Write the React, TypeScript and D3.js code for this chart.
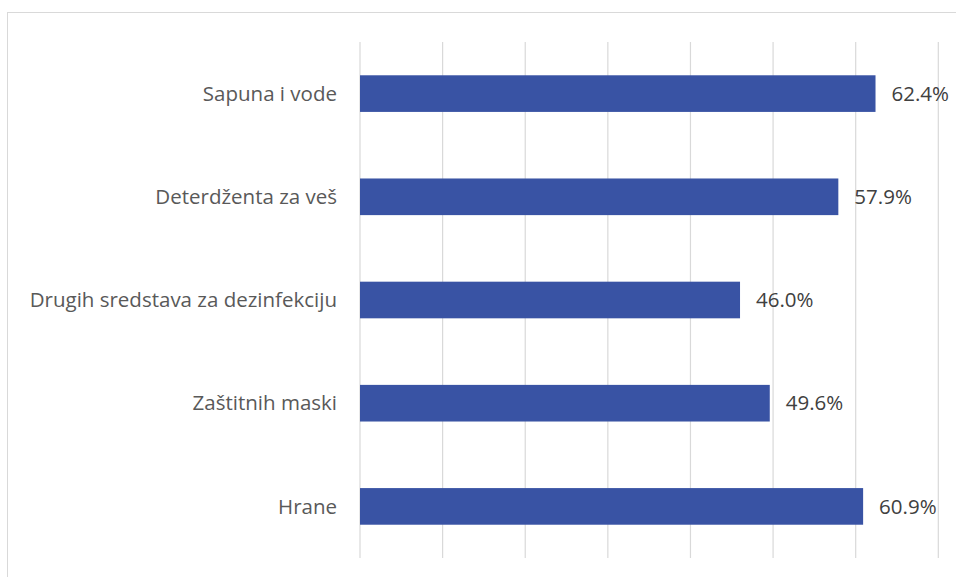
import React from "react";
import * as d3 from "d3";

const categories = [
  "Sapuna i vode",
  "Deterdženta za veš",
  "Drugih sredstava za dezinfekciju",
  "Zaštitnih maski",
  "Hrane",
];
const values = [62.4, 57.9, 46.0, 49.6, 60.9];
const gridTicks = [0, 10, 20, 30, 40, 50, 60, 70];

const W = 956;
const H = 577;
const FONT = "'Open Sans', 'Noto Sans', sans-serif";

export default function App() {
  const x = d3.scaleLinear().domain([0, 70]).range([360, 938.3]);
  const y = d3.scaleBand().domain(categories).range([42, 558]).paddingInner(0.645).paddingOuter(0.3225);
  return (
    <svg width={W} height={H} style={{ position: "absolute", left: 0, top: 0, display: "block" }}>
      <rect x={0} y={0} width={W} height={H} fill="#fff" />
      <rect x={7.5} y={12.5} width={W + 20} height={H + 20} fill="none" stroke="#d9d9d9" strokeWidth={1} />
      {gridTicks.map((t) => (
        <line key={t} x1={x(t)} x2={x(t)} y1={42} y2={558} stroke="#d9d9d9" strokeWidth={1.2} />
      ))}
      {categories.map((c, i) => (
        <g key={c}>
          <rect x={x(0)} y={y(c)!} width={x(values[i]) - x(0)} height={y.bandwidth()} fill="#3953A4" />
          <text
            x={337}
            y={y(c)! + y.bandwidth() / 2}
            dy="0.35em"
            textAnchor="end"
            fontFamily={FONT}
            fontSize={20.5}
            fill="#595959"
          >
            {c}
          </text>
          <text
            x={x(values[i]) + 16}
            y={y(c)! + y.bandwidth() / 2}
            dy="0.35em"
            fontFamily={FONT}
            fontSize={20.5}
            fill="#404040"
          >
            {values[i].toFixed(1) + "%"}
          </text>
        </g>
      ))}
    </svg>
  );
}
